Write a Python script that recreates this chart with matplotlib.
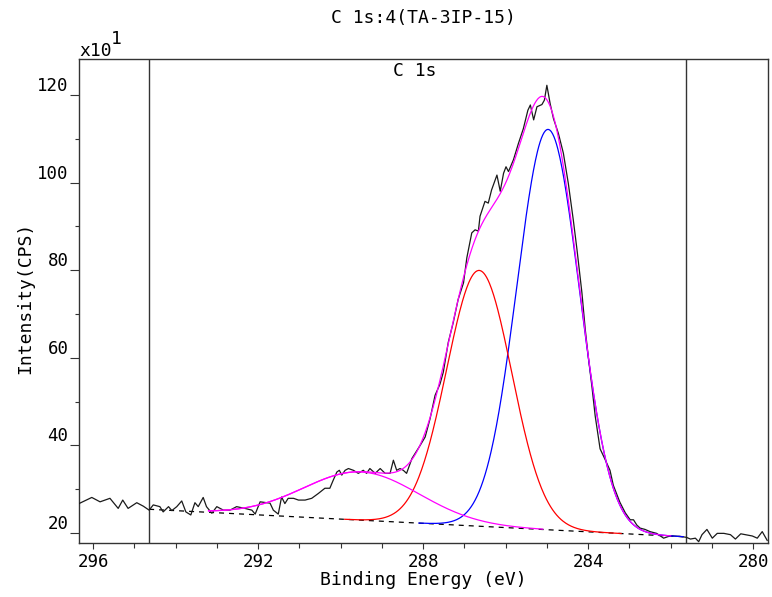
"""
XPS C 1s 窄谱 拟合图
原始谱线 + 背底 + 三个拟合峰 + 包络
"""

import numpy as np
import matplotlib
matplotlib.use('Agg')
from matplotlib import pyplot as plt
from matplotlib.ticker import MultipleLocator

plt.rcParams['font.family'] = ['DejaVu Sans Mono']

# 原始谱线 (结合能 eV, 强度 x10 CPS)
energy = [296.34, 296.03, 295.83, 295.59, 295.39, 295.28, 295.15, 294.94, 294.78, 294.64,
          294.54, 294.38, 294.30, 294.17, 294.09, 293.97, 293.85, 293.75, 293.63, 293.53,
          293.45, 293.33, 293.25, 293.12, 293.00, 292.84, 292.68, 292.52, 292.32, 292.15,
          292.07, 291.95, 291.71, 291.63, 291.51, 291.43, 291.35, 291.27, 291.14, 291.02,
          290.86, 290.70, 290.54, 290.38, 290.26, 290.18, 290.09, 290.03, 289.97, 289.89,
          289.81, 289.69, 289.57, 289.45, 289.37, 289.29, 289.16, 289.04, 288.92, 288.80,
          288.72, 288.64, 288.56, 288.48, 288.40, 288.27, 288.07, 287.95, 287.83, 287.71,
          287.59, 287.51, 287.39, 287.27, 287.15, 287.02, 286.94, 286.82, 286.74, 286.66,
          286.62, 286.50, 286.42, 286.34, 286.21, 286.13, 286.05, 285.99, 285.93, 285.81,
          285.69, 285.57, 285.46, 285.40, 285.32, 285.24, 285.12, 285.06, 285.00, 284.92,
          284.84, 284.72, 284.60, 284.48, 284.36, 284.27, 284.15, 284.07, 283.99, 283.91,
          283.83, 283.71, 283.59, 283.47, 283.39, 283.23, 283.10, 282.98, 282.90, 282.82,
          282.74, 282.62, 282.50, 282.34, 282.17, 282.05, 281.93, 281.77, 281.62, 281.52,
          281.40, 281.32, 281.24, 281.12, 280.99, 280.87, 280.71, 280.55, 280.43, 280.30,
          280.14, 280.02, 279.90, 279.78, 279.66]
counts = [26.7, 28.1, 27.1, 27.9, 25.6, 27.5, 25.6, 26.9, 26.1, 25.2,
          26.4, 26.0, 24.8, 26.0, 25.1, 26.0, 27.3, 24.8, 24.1, 26.9,
          26.0, 28.1, 26.0, 24.5, 26.0, 25.2, 25.2, 26.0, 25.6, 25.2,
          24.3, 27.1, 26.8, 25.2, 24.3, 28.2, 26.7, 27.9, 27.9, 27.5,
          27.5, 27.9, 29.0, 30.2, 30.2, 32.0, 33.9, 34.3, 33.2, 34.3,
          34.7, 34.3, 33.6, 34.3, 33.6, 34.7, 33.6, 34.7, 33.6, 33.6,
          36.6, 34.3, 34.7, 34.3, 33.6, 37.0, 40.0, 41.9, 46.1, 51.4,
          54.0, 56.7, 63.5, 68.0, 73.3, 77.1, 82.8, 88.5, 89.2, 88.9,
          92.3, 95.7, 95.3, 98.3, 101.7, 98.0, 102.1, 103.6, 102.5, 105.2,
          108.9, 112.3, 116.5, 117.7, 114.3, 117.3, 117.8, 118.8, 122.2, 118.0,
          114.6, 111.2, 106.7, 99.8, 91.5, 84.7, 74.8, 66.5, 59.7, 53.6,
          46.8, 39.2, 36.8, 34.3, 30.9, 27.0, 24.6, 23.0, 23.0, 21.8,
          21.1, 20.8, 20.3, 19.9, 18.8, 19.2, 19.3, 19.2, 19.0, 18.6,
          18.8, 18.0, 19.6, 20.8, 18.8, 19.9, 19.9, 19.6, 18.6, 19.8,
          19.5, 19.3, 18.8, 20.3, 18.3]

# 拟合区间 (两条竖线) 与 线性背底
region = [294.64, 281.62]
bg_level = [25.4, 19.1]

# 拟合峰: 中心, 半高宽, 峰高(扣背底后), 颜色, 画线范围
peak_center = [284.97, 286.64, 289.50]
peak_fwhm = [1.78, 1.86, 3.30]
peak_height = [91.4, 58.4, 11.0]
peak_color = ['#0000ff', '#ff0000', '#ff00ff']
peak_range = [(288.1, 281.7), (289.9, 283.2), (293.2, 285.1)]
env_range = (293.2, 282.0)


def background(x):
    return np.interp(x, region[::-1], bg_level[::-1])


def gauss(x, c, w, h):
    return h * np.exp(-4 * np.log(2) * (x - c) ** 2 / w ** 2)


fig = plt.figure(figsize=(7.72, 5.97), dpi=100)
ax = fig.add_axes([79 / 772, 1 - 543 / 597, 689 / 772, 484 / 597])

ax.plot(energy, counts, color='#1a1a1a', lw=0.9, zorder=3)

xb = np.linspace(region[0], region[1], 300)
ax.plot(xb, background(xb), color='black', lw=0.9, ls=(0, (4, 4)), zorder=2)

for c, w, h, col, rng in zip(peak_center, peak_fwhm, peak_height, peak_color, peak_range):
    xx = np.linspace(rng[0], rng[1], 400)
    ax.plot(xx, background(xx) + gauss(xx, c, w, h), color=col, lw=0.9, zorder=4)

xe = np.linspace(env_range[0], env_range[1], 600)
ye = background(xe)
for c, w, h in zip(peak_center, peak_fwhm, peak_height):
    ye = ye + gauss(xe, c, w, h)
ax.plot(xe, ye, color='#ff00ff', lw=0.9, zorder=4)

for r in region:
    ax.axvline(r, color='#333333', lw=1.0, zorder=1)

ax.set_xlim(296.34, 279.64)
ax.set_ylim(17.7, 128.2)

ax.xaxis.set_major_locator(MultipleLocator(4))
ax.xaxis.set_minor_locator(MultipleLocator(1))
ax.yaxis.set_major_locator(MultipleLocator(20))
ax.yaxis.set_minor_locator(MultipleLocator(10))
ax.tick_params(axis='x', which='major', length=4, width=0.8, pad=3, labelsize=12.5, color='#333333')
ax.tick_params(axis='x', which='minor', length=3.5, width=0.8, color='#333333')
ax.tick_params(axis='y', which='major', length=6.5, width=0.8, pad=1, labelsize=12.5, color='#333333')
ax.tick_params(axis='y', which='minor', length=3, width=0.8, color='#333333')
for lab in ax.get_yticklabels():
    lab.set_va('bottom')

for s in ax.spines.values():
    s.set_color('#333333')
    s.set_linewidth(1.0)

fig.text(423 / 772, 1 - 18 / 597, 'C 1s:4(TA-3IP-15)', ha='center', va='center', fontsize=13)
fig.text(415 / 772, 1 - 71 / 597, 'C 1s', ha='center', va='center', fontsize=13)
# 纵轴倍率 x10^1
fig.text(79 / 772, 1 - 60 / 597, 'x10', ha='left', va='bottom', fontsize=13)
fig.text(111 / 772, 1 - 48 / 597, '1', ha='left', va='bottom', fontsize=13)
fig.text(423 / 772, 1 - 580 / 597, 'Binding Energy (eV)', ha='center', va='center', fontsize=13)
fig.text(25 / 772, 1 - 298 / 597, 'Intensity(CPS)', ha='center', va='center', rotation=90, fontsize=13)

fig.savefig('out.png', dpi=100)
